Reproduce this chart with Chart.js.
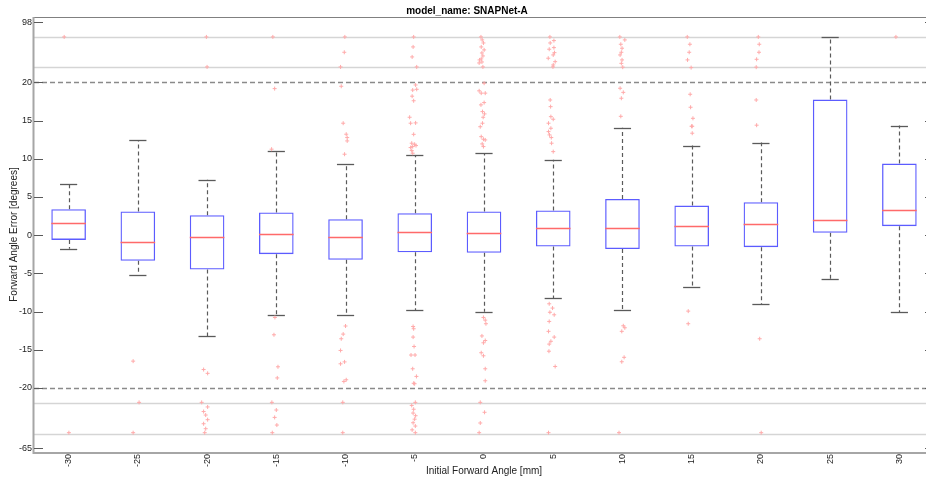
<!DOCTYPE html>
<html><head><meta charset="utf-8">
<script src="https://cdn.jsdelivr.net/npm/chart.js@4.4.1/dist/chart.umd.min.js"></script>
<style>
html,body{margin:0;padding:0;overflow:hidden;background:#fff;width:926px;height:479px}
#wrap{width:968px;height:479px;position:relative}
</style></head>
<body><div id="wrap"><canvas id="c" width="968" height="479"></canvas></div>
<script>
// ---- data (y in display units; |y|>20 is the compressed outlier band) ----
const categories  = [-30,-25,-20,-15,-10,-5,0,5,10,15,20,25,30];
const whiskerLow  = [-1.79,-5.20,-13.27,-10.52,-10.47,-9.82,-10.04,-8.25,-9.78,-6.73,-9.03,-5.72,-10.13];
const q1          = [-0.62,-3.36,-4.50,-2.49,-3.23,-2.23,-2.32,-1.49,-1.83,-1.49,-1.57,0.30,1.18];
const medians     = [1.65,-0.84,-0.26,0.21,-0.22,0.39,0.34,0.92,0.96,1.26,1.48,1.96,3.31];
const q3          = [3.40,3.09,2.62,2.96,2.09,2.88,3.09,3.22,4.75,3.87,4.32,17.75,9.37];
const whiskerHigh = [6.71,12.43,7.24,11.03,9.29,10.51,10.73,9.86,14.08,11.73,12.12,25.96,14.35];

const yTickValues = [27.9,20,15,10,5,0,-5,-10,-15,-20,-27.9];
const yTickLabels = ['98','20','15','10','5','0','-5','-10','-15','-20','-65'];
const limitLines    = [20,-20];
const compressLines = [26,22,-22,-26];

const outlierPoints = [
 [-30.32,25.96],[-29.98,-25.87],
 [-25.34,-16.5],[-24.91,-21.9],[-25.34,-25.87],
 [-20.05,25.96],[-20.0,22.03],[-20.25,-17.6],[-19.96,-18.1],[-20.39,-21.9],[-19.96,-22.5],[-20.25,-23.1],[-20.1,-23.56],[-19.96,-24.17],[-20.25,-24.7],[-20.1,-25.35],[-20.17,-25.87],
 [-15.25,25.96],[-15.12,19.19],[-15.34,11.26],[-15.1,-10.78],[-15.17,-13.05],[-14.88,-17.24],[-14.93,-18.7],[-15.32,-21.9],[-15.0,-22.9],[-15.12,-23.87],[-14.96,-24.87],[-15.29,-25.87],
 [-10.05,25.96],[-10.09,23.95],[-10.36,22.03],[-10.31,19.5],[-10.17,14.66],[-9.95,13.22],[-9.88,12.78],[-9.88,12.34],[-10.07,10.6],[-10.0,-11.9],[-10.17,-12.96],[-10.31,-13.57],[-10.36,-15.1],[-10.36,-16.85],[-10.07,-16.6],[-10.12,-19.16],[-9.95,-18.94],[-10.2,-21.9],[-10.2,-25.87],
 [-5.08,25.96],[-5.12,24.65],[-5.19,23.34],[-4.86,22.03],[-4.94,19.67],[-4.86,19.1],[-5.15,19.0],[-5.19,18.2],[-5.08,17.6],[-5.37,15.44],[-5.3,14.66],[-4.94,14.7],[-5.08,13.2],[-5.22,12.04],[-5.01,11.9],[-5.15,11.6],[-4.91,11.73],[-5.3,11.47],[-5.15,10.73],[-5.22,11.07],
 [-5.12,-11.96],[-5.08,-12.26],[-5.12,-13.35],[-5.05,-14.58],[-5.27,-15.7],[-4.98,-15.7],[-5.15,-17.5],[-4.88,-18.5],[-5.08,-19.4],[-5.01,-19.46],[-4.96,-21.9],[-5.22,-22.3],[-5.08,-22.8],[-5.12,-23.3],[-4.94,-23.65],[-5.01,-24.1],[-5.12,-24.57],[-4.96,-25.0],[-5.19,-25.5],[-4.96,-25.87],
 [-0.22,25.96],[-0.13,25.57],[-0.04,25.17],[-0.2,24.65],[0.01,24.26],[-0.15,23.86],[-0.08,23.47],[-0.2,23.08],[-0.32,22.95],[-0.15,22.68],[-0.35,22.55],[-0.08,22.03],
 [0.01,19.9],[-0.35,18.9],[-0.2,18.6],[0.09,18.6],[-0.22,17.06],[0.01,17.36],[-0.11,16.18],[0.04,15.88],[-0.06,15.44],[-0.27,14.2],[-0.11,14.66],[-0.2,12.9],[-0.04,12.56],[0.09,12.47],[-0.13,11.95],[-0.04,11.6],
 [-0.04,-10.78],[0.09,-11.13],[0.14,-11.6],[-0.15,-13.2],[0.09,-13.8],[-0.04,-14.1],[-0.2,-15.4],[-0.04,-15.8],[0.09,-17.5],[0.09,-19.07],[-0.27,-21.9],[0.04,-23.2],[-0.27,-24.6],[-0.35,-25.87],
 [4.76,25.96],[5.05,25.48],[4.78,25.17],[4.71,24.35],[5.05,24.56],[5.09,23.9],[5.0,23.6],[4.64,23.17],[5.14,22.72],[5.0,22.29],[4.98,22.03],
 [4.78,17.7],[4.81,16.83],[4.83,15.52],[5.0,15.18],[4.66,14.66],[4.83,14.0],[4.66,13.56],[4.73,13.13],[4.86,12.78],[4.88,12.04],[5.0,10.94],
 [4.71,-8.99],[4.95,-9.55],[4.76,-10.1],[5.07,-10.43],[4.71,-11.3],[4.66,-12.6],[5.07,-13.35],[4.83,-13.9],[4.71,-14.27],[4.69,-15.2],[5.14,-17.2],[4.66,-25.87],
 [9.81,25.96],[10.17,25.57],[9.88,25.0],[9.97,24.48],[9.92,23.95],[9.83,23.6],[9.97,22.95],[9.92,22.5],[10.02,22.0],
 [9.83,19.24],[10.06,18.7],[9.92,17.93],[9.88,15.56],
 [10.06,-11.87],[10.17,-12.13],[9.95,-12.6],[10.12,-16.0],[9.95,-16.58],[9.75,-25.87],
 [14.68,25.96],[14.87,25.0],[14.82,23.95],[14.7,22.95],[14.96,21.94],
 [14.89,18.45],[14.92,16.75],[15.09,15.3],[14.99,14.26],[15.04,14.26],[15.04,13.35],[14.75,-9.95],[14.75,-11.6],
 [19.81,25.96],[19.88,25.0],[19.86,23.95],[19.69,23.03],[19.66,22.0],[19.66,17.7],[19.69,14.4],[19.91,-13.57],[20.02,-25.87],
 [29.75,25.96]
];

// ---- styles ----
const CAP_HALF = 0.62;           // x units
const FONT = '"Liberation Sans", Arial, Helvetica, sans-serif';

const boxParts = {
  id: 'boxParts',
  beforeDatasetsDraw(chart) {
    const {ctx, chartArea: a, scales: {x, y}} = chart;
    ctx.save();
    ctx.beginPath(); ctx.rect(a.left, a.top, a.right - a.left, a.bottom - a.top); ctx.clip();
    const hline = (v) => { const py = Math.round(y.getPixelForValue(v)) + 0.5; ctx.beginPath(); ctx.moveTo(a.left, py); ctx.lineTo(a.right, py); ctx.stroke(); };
    ctx.strokeStyle = '#d5d5d5'; ctx.lineWidth = 1.5;
    compressLines.forEach(hline);
    ctx.strokeStyle = '#8a8a8a'; ctx.lineWidth = 1.5; ctx.setLineDash([5, 3]);
    limitLines.forEach(hline);
    // whiskers
    ctx.strokeStyle = '#5a5a5a'; ctx.lineWidth = 1.2; ctx.setLineDash([4, 3]);
    categories.forEach((c, i) => {
      const px = Math.round(x.getPixelForValue(c)) + 0.5;
      ctx.beginPath();
      ctx.moveTo(px, y.getPixelForValue(q3[i])); ctx.lineTo(px, y.getPixelForValue(whiskerHigh[i]));
      ctx.moveTo(px, y.getPixelForValue(q1[i])); ctx.lineTo(px, y.getPixelForValue(whiskerLow[i]));
      ctx.stroke();
    });
    ctx.setLineDash([]); ctx.lineWidth = 1.3;
    categories.forEach((c, i) => {
      const l = x.getPixelForValue(c - CAP_HALF), r = x.getPixelForValue(c + CAP_HALF);
      [whiskerHigh[i], whiskerLow[i]].forEach(v => {
        const py = Math.round(y.getPixelForValue(v)) + 0.5;
        ctx.beginPath(); ctx.moveTo(l, py); ctx.lineTo(r, py); ctx.stroke();
      });
    });
    ctx.restore();
  },
  afterDatasetDraw(chart, args) {
    if (args.index !== 1) return;
    const {ctx, scales: {x, y}} = chart;
    const bars = chart.getDatasetMeta(1).data;
    ctx.save();
    ctx.strokeStyle = '#ff6a6a'; ctx.lineWidth = 1.5;
    categories.forEach((c, i) => {
      const px = x.getPixelForValue(c), hw = bars[i].width / 2;
      const py = Math.round(y.getPixelForValue(medians[i])) + 0.5;
      ctx.beginPath(); ctx.moveTo(px - hw, py); ctx.lineTo(px + hw, py); ctx.stroke();
    });
    ctx.restore();
  },
  afterDraw(chart) {
    const {ctx, chartArea: a, scales: {y}} = chart;
    ctx.save();
    ctx.strokeStyle = '#808080'; ctx.lineWidth = 1;
    ctx.beginPath(); ctx.moveTo(a.left, a.top + 0.5); ctx.lineTo(a.right, a.top + 0.5); ctx.stroke();
    ctx.strokeStyle = '#a6a6a6'; ctx.lineWidth = 2;
    ctx.beginPath(); ctx.moveTo(a.left - 0.5, a.top); ctx.lineTo(a.left - 0.5, a.bottom + 1); ctx.lineTo(a.right, a.bottom + 1); ctx.stroke();
    ctx.beginPath(); ctx.moveTo(a.right, a.top); ctx.lineTo(a.right, a.bottom); ctx.stroke();
    ctx.strokeStyle = '#5a5a5a'; ctx.lineWidth = 1;
    yTickValues.forEach(v => {
      const py = Math.round(y.getPixelForValue(v)) + 0.5;
      ctx.beginPath(); ctx.moveTo(a.left, py); ctx.lineTo(a.left + 9, py);
      ctx.moveTo(a.right, py); ctx.lineTo(a.right - 9, py); ctx.stroke();
    });
    ctx.restore();
  }
};

new Chart(document.getElementById('c'), {
  type: 'bar',
  data: {
    datasets: [
      {
        type: 'scatter',
        label: 'outliers',
        data: outlierPoints.map(p => ({x: p[0], y: p[1]})),
        pointStyle: 'cross', pointRadius: 2, borderColor: '#ffaaaa', borderWidth: 1,
        backgroundColor: '#ffaaaa', order: 0
      },
      {
        type: 'bar',
        label: 'boxes',
        data: categories.map((c, i) => ({x: c, y: [q1[i], q3[i]]})),
        backgroundColor: 'rgba(0,0,0,0)', borderColor: '#5c5cff', borderWidth: 1.3,
        borderSkipped: false, barPercentage: 0.5, categoryPercentage: 1, order: 1
      }
    ]
  },
  options: {
    responsive: false, animation: false, events: [],
    layout: {padding: {left: 0, right: 34, top: 0, bottom: 0}},
    plugins: {
      legend: {display: false}, tooltip: {enabled: false},
      title: {display: true, text: 'model_name: SNAPNet-A', color: '#000',
        font: {family: FONT, size: 10, weight: 'bold', lineHeight: 1.2}, padding: {top: 5, bottom: 0}}
    },
    scales: {
      x: {
        type: 'linear', min: -32.5, max: 32.5, offset: false,
        afterBuildTicks: s => { s.ticks = categories.map(v => ({value: v})); },
        afterFit: s => { s.height = 27; },
        grid: {display: false, drawTicks: false, offset: false}, border: {display: false},
        ticks: {autoSkip: false, minRotation: 90, maxRotation: 90, padding: 2, color: '#222',
          font: {family: FONT, size: 9}, callback: v => String(v)},
        title: {display: true, text: 'Initial Forward Angle [mm]', color: '#222',
          font: {family: FONT, size: 10}, padding: {top: 0, bottom: 2}}
      },
      y: {
        type: 'linear', min: -28.4, max: 28.57,
        afterBuildTicks: s => { s.ticks = yTickValues.map(v => ({value: v})); },
        afterFit: s => { s.width = 34; },
        grid: {display: false, drawTicks: false}, border: {display: false},
        ticks: {autoSkip: false, padding: 2, color: '#222', font: {family: FONT, size: 9},
          callback: (v, i) => yTickLabels[i]},
        title: {display: true, text: 'Forward Angle Error [degrees]', color: '#222',
          font: {family: FONT, size: 10}, padding: {top: 8, bottom: 0}}
      }
    }
  },
  plugins: [boxParts]
});
</script>
</body></html>
